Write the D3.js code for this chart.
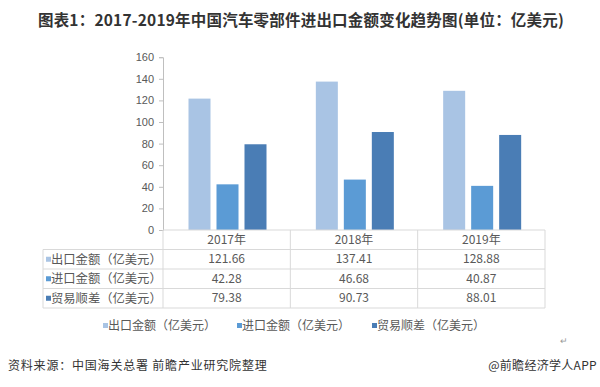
<!DOCTYPE html>
<html><head><meta charset="utf-8">
<script src="https://cdn.jsdelivr.net/npm/d3@7"></script>
<style>
body{margin:0;background:#fff;}
svg{display:block;font-family:"Noto Sans CJK SC","Noto Sans",sans-serif;}
</style></head>
<body><svg id="c" width="600" height="387"></svg>
<script>
const years = ["2017年","2018年","2019年"];
const seriesNames = ["出口金额（亿美元）","进口金额（亿美元）","贸易顺差（亿美元）"];
const exportVals = [121.66, 137.41, 128.88];
const importVals = [42.28, 46.68, 40.87];
const surplusVals = [79.38, 90.73, 88.01];
const valueLabels = [["121.66","137.41","128.88"],["42.28","46.68","40.87"],["79.38","90.73","88.01"]];
const yTicks = [0,20,40,60,80,100,120,140,160];
const colors = ["#a9c4e4","#5b9bd5","#4a7db5"];
const series = [exportVals, importVals, surplusVals];

const svg = d3.select("#c");
const x0 = 163, x1 = 545, yTop = 57.2, yBase = 230;
const tableLeft = 43, rowH = 19.5;

svg.append("text").attr("x",301).attr("y",26).attr("text-anchor","middle")
  .attr("font-size",15.5).attr("letter-spacing",0.2).attr("font-weight","bold").attr("fill","#333")
  .text("图表1：2017-2019年中国汽车零部件进出口金额变化趋势图(单位：亿美元)");

const x = d3.scaleBand().domain(years).range([x0,x1]);
const xi = d3.scaleBand().domain(d3.range(3)).range([25.5,103.5]).paddingInner(0.214).paddingOuter(0);
const y = d3.scaleLinear().domain([0,160]).range([yBase,yTop]);

// y axis
const ya = svg.append("g").attr("transform",`translate(${x0},0)`)
  .call(d3.axisLeft(y).tickValues(yTicks).tickSize(4).tickPadding(5));
ya.select(".domain").attr("stroke","#bfbfbf");
ya.selectAll(".tick line").attr("stroke","#bfbfbf");
ya.selectAll(".tick text").attr("font-size",11).attr("fill","#595959").attr("font-family","Liberation Sans, Arial, sans-serif");

// bars
series.forEach((vals,si)=>{
  svg.append("g").selectAll("rect").data(vals).join("rect")
    .attr("x",(d,i)=>x(years[i])+xi(si))
    .attr("width",xi.bandwidth())
    .attr("y",d=>y(d))
    .attr("height",d=>yBase-y(d))
    .attr("fill",colors[si]);
});

// table
const tg = svg.append("g").attr("stroke","#d9d9d9").attr("stroke-width",1).attr("fill","none");
const tableBottom = yBase + rowH*4;
tg.append("line").attr("x1",x0).attr("x2",x1).attr("y1",yBase).attr("y2",yBase);
for(let r=1;r<=4;r++){
  tg.append("line").attr("x1",tableLeft).attr("x2",x1).attr("y1",yBase+rowH*r).attr("y2",yBase+rowH*r);
}
tg.append("line").attr("x1",tableLeft).attr("x2",tableLeft).attr("y1",yBase+rowH).attr("y2",tableBottom);
years.forEach(yr=>{
  tg.append("line").attr("x1",x(yr)).attr("x2",x(yr)).attr("y1",yBase).attr("y2",tableBottom);
});
tg.append("line").attr("x1",x1).attr("x2",x1).attr("y1",yBase).attr("y2",tableBottom);

// header
svg.append("g").selectAll("text").data(years).join("text")
  .attr("x",d=>x(d)+x.bandwidth()/2).attr("y",yBase+rowH/2+4.5)
  .attr("text-anchor","middle").attr("font-size",12).attr("fill","#595959").text(d=>d);

seriesNames.forEach((nm,si)=>{
  const cy = yBase + rowH*(si+1) + rowH/2;
  svg.append("rect").attr("x",46).attr("y",cy-2.5).attr("width",5).attr("height",5).attr("fill",colors[si]);
  svg.append("text").attr("x",51).attr("y",cy+4.5).attr("font-size",12.3).attr("fill","#595959").text(nm);
  svg.append("g").selectAll("text").data(valueLabels[si]).join("text")
    .attr("x",(d,i)=>x(years[i])+x.bandwidth()/2).attr("y",cy+4)
    .attr("text-anchor","middle").attr("font-size",12).attr("fill","#595959").text(d=>d);
});

// legend
const legX = [103,237,372];
seriesNames.forEach((nm,si)=>{
  svg.append("rect").attr("x",legX[si]).attr("y",323).attr("width",5).attr("height",5).attr("fill",colors[si]);
  svg.append("text").attr("x",legX[si]+5).attr("y",330).attr("font-size",12).attr("fill","#595959").text(nm);
});

svg.append("text").attr("x",560).attr("y",344).attr("font-size",9).attr("fill","#999").text("↵");

// footer
svg.append("text").attr("x",8).attr("y",370).attr("font-size",12).attr("letter-spacing",0.8).attr("fill","#333")
  .text("资料来源：中国海关总署 前瞻产业研究院整理");
svg.append("text").attr("x",597).attr("y",370).attr("text-anchor","end").attr("font-size",12).attr("letter-spacing",0.3).attr("fill","#333")
  .text("@前瞻经济学人APP");
</script></body></html>
